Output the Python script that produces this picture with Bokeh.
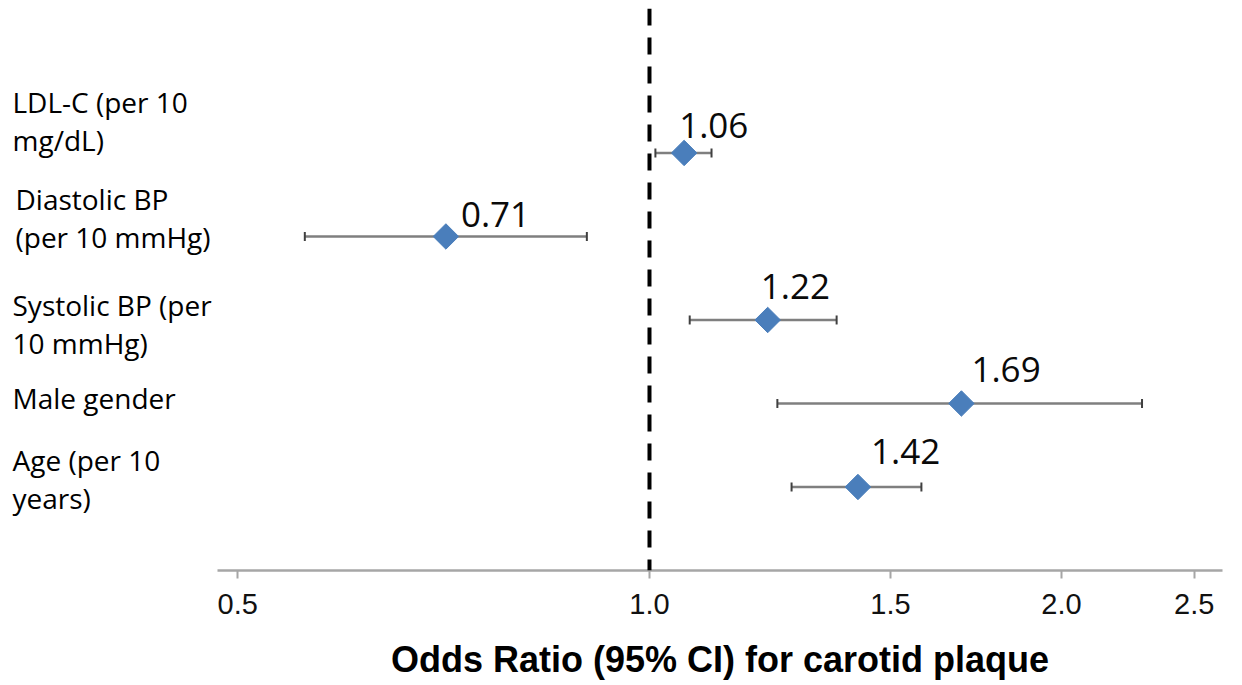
import numpy as np
from bokeh.plotting import figure
from bokeh.models import Range1d, FixedTicker, PrintfTickFormatter, Span, ColumnDataSource
from bokeh.layouts import row
from bokeh.embed import file_html
from bokeh.resources import INLINE
from bokeh.core.properties import value

# ---------------- data ----------------
factors = ["Age (per 10\nyears)", "Male gender", "Systolic BP (per\n10 mmHg)",
           "Diastolic BP\n(per 10 mmHg)", "LDL-C (per 10\nmg/dL)"]
positions = [1, 2, 3, 4, 5]
odds_ratio = [1.42, 1.69, 1.22, 0.71, 1.06]
ci_lower = [1.27, 1.24, 1.07, 0.56, 1.01]
ci_upper = [1.58, 2.29, 1.37, 0.90, 1.11]
or_labels = ["1.42", "1.69", "1.22", "0.71", "1.06"]
x_ticks = [0.5, 1.0, 1.5, 2.0, 2.5]
reference_or = 1.0

# ---------------- style offsets ----------------
label_dy = [0.10, 0.07, -0.05, 0.22, 0.38]   # factor label offsets (y units)
label_dx = [12, 12, 12, 15, 12]              # factor label offsets (px)
value_dx = [13, 10, -7, 15, -5]              # value label offsets (px)
value_dy = [-35, -34, -33, -22, -27]

W_L, W_M = 217, 1017
TOP, FRAME_H, BOTTOM = 8, 562, 115
H = TOP + FRAME_H + BOTTOM

src = ColumnDataSource(dict(y=positions, orr=odds_ratio, lo=ci_lower, hi=ci_upper,
                            txt=or_labels, dx=value_dx, dy=value_dy))

yr = Range1d(0, 6.73)

p = figure(width=W_M, height=H, x_axis_type="log", x_range=Range1d(0.4835, 2.622),
           y_range=yr, output_backend="svg", toolbar_location=None,
           min_border_left=0, min_border_right=12, min_border_top=TOP,
           min_border_bottom=BOTTOM, y_axis_location=None)
p.outline_line_color = None
p.xgrid.visible = False
p.ygrid.visible = False

p.segment(x0="lo", y0="y", x1="hi", y1="y", source=src, line_color="#7F7F7F", line_width=2.5)
p.scatter(x="lo", y="y", source=src, marker="dash", angle=np.pi / 2, size=9,
          line_color="#404040", line_width=2)
p.scatter(x="hi", y="y", source=src, marker="dash", angle=np.pi / 2, size=9,
          line_color="#404040", line_width=2)

span = Span(location=reference_or, dimension="height", line_color="black",
            line_width=4, line_dash="17 12")
p.add_layout(span)

p.scatter(x="orr", y="y", source=src, marker="square", angle=np.pi / 4, size=18,
          fill_color="#4A7EBB", line_color="#4A7EBB")
p.text(x="orr", y="y", text="txt", source=src, x_offset="dx", y_offset="dy",
       text_font=value("Open Sans"), text_font_size="35px", text_baseline="middle",
       text_align="left", text_color="#0a0a0a")

ax = p.xaxis[0]
ax.ticker = FixedTicker(ticks=x_ticks, minor_ticks=[])
ax.formatter = PrintfTickFormatter(format="%.1f")
ax.axis_line_color = "#A6A6A6"
ax.axis_line_width = 2.5
ax.major_tick_line_color = "#A6A6A6"
ax.major_tick_line_width = 2
ax.major_tick_out = 8
ax.major_tick_in = 0
ax.minor_tick_out = 0
ax.minor_tick_in = 0
ax.major_label_standoff = 15
ax.major_label_text_font = "Liberation Sans"
ax.major_label_text_font_size = "29px"
ax.major_label_text_color = "#111111"
ax.axis_label = "Odds Ratio (95% CI) for carotid plaque"
ax.axis_label_text_font = "Liberation Sans"
ax.axis_label_text_font_style = "bold"
ax.axis_label_text_font_size = "36px"
ax.axis_label_text_color = "#000000"
ax.axis_label_standoff = 22

# left label panel
pl = figure(width=W_L, height=H, x_range=Range1d(0, W_L), y_range=yr,
            output_backend="svg", toolbar_location=None,
            min_border_left=0, min_border_right=0, min_border_top=TOP,
            min_border_bottom=BOTTOM, x_axis_location=None, y_axis_location=None)
pl.outline_line_color = None
pl.xgrid.visible = False
pl.ygrid.visible = False
label_y = [pos + d for pos, d in zip(positions, label_dy)]
pl.text(x=[0] * len(factors), y=label_y, text=factors, x_offset=label_dx,
        text_font=value("Open Sans"), text_font_size="28px", text_line_height=1.0,
        text_baseline="middle", text_align="left", text_color="#000000")

layout = row(pl, p)
open("out.html", "w").write(file_html(layout, INLINE))
